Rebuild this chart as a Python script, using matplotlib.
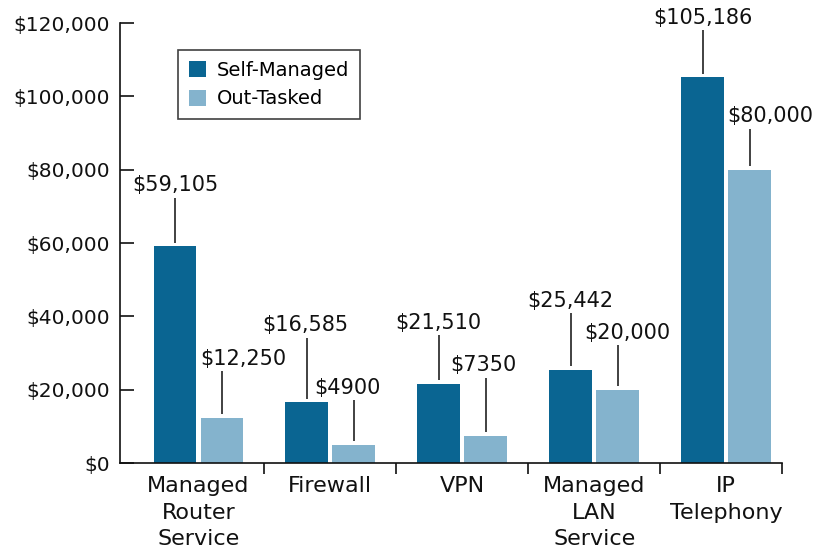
import matplotlib
matplotlib.use("Agg")
import matplotlib.pyplot as plt
import numpy as np

categories = ["Managed\nRouter\nService", "Firewall", "VPN", "Managed\nLAN\nService", "IP\nTelephony"]
self_managed = [59105, 16585, 21510, 25442, 105186]
out_tasked = [12250, 4900, 7350, 20000, 80000]
series_names = ["Self-Managed", "Out-Tasked"]
yticks = [0, 20000, 40000, 60000, 80000, 100000, 120000]

# label layout (text centre heights in data units and horizontal shifts)
sm_label_y = [75800, 37600, 38200, 44200, 121400]
ot_label_y = [28400, 20500, 26700, 35500, 94600]
sm_label_dx = [0.0, -0.015, 0.0, -0.005, 0.0]
ot_label_dx = [0.16, -0.045, -0.02, 0.07, 0.16]

dark = "#0a6592"
light = "#84b3cd"

plt.rcParams['font.family'] = ['DejaVu Sans']
fig = plt.figure(figsize=(8.19, 5.59), dpi=100)
ax = fig.add_axes([120/819, 96/559, 662/819, 440/559])

x = np.arange(len(categories))
off = 0.178
w = 0.325
ax.bar(x - off, self_managed, w, color=dark, label=series_names[0])
ax.bar(x + off, out_tasked, w, color=light, label=series_names[1])

ax.set_xlim(-0.595, 4.424)
ax.set_ylim(0, 120000)

def fmt(v):
    s = f"${v:,}"
    if v < 10000:
        s = f"${v}"
    return s

lc = "#333333"
for i in range(len(categories)):
    for vals, ly, dx, sgn in ((self_managed, sm_label_y, sm_label_dx, -1),
                              (out_tasked, ot_label_y, ot_label_dx, 1)):
        v = vals[i]
        bx = x[i] + sgn * off
        ax.text(bx + dx[i], ly[i], fmt(v), ha="center", va="center",
                fontsize=15, color="#111111", clip_on=False)
        ax.plot([bx, bx], [v + 1000, ly[i] - 3400], color=lc, lw=1.3,
                clip_on=False, solid_capstyle="butt")

for s in ["top", "right"]:
    ax.spines[s].set_visible(False)
for s in ["left", "bottom"]:
    ax.spines[s].set_linewidth(1.2)
    ax.spines[s].set_color("#111111")

ax.set_yticks(yticks)
ax.set_yticklabels([f"${t:,}" for t in yticks])
ax.tick_params(axis="y", direction="in", length=10, width=1.2, pad=7,
               labelsize=14.5, colors="#111111")

ax.set_xticks(x)
ax.set_xticklabels(categories, fontsize=16, linespacing=1.4, color="#111111")
ax.tick_params(axis="x", which="major", length=0, pad=9.5)
ax.set_xticks([0.5, 1.5, 2.5, 3.5, 4.424], minor=True)
ax.tick_params(axis="x", which="minor", direction="out", length=8, width=1.2,
               colors="#111111")

leg = ax.legend(loc="upper left", bbox_to_anchor=((178-120)/662, (463-50)/440),
                borderaxespad=0, fontsize=14, frameon=True, fancybox=False,
                handlelength=0.9, handleheight=0.9, handletextpad=0.55,
                labelspacing=0.5, borderpad=0.55)
leg.get_frame().set_edgecolor("#111111")
leg.get_frame().set_linewidth(1.2)

fig.savefig("out.png", dpi=100, facecolor="white")
